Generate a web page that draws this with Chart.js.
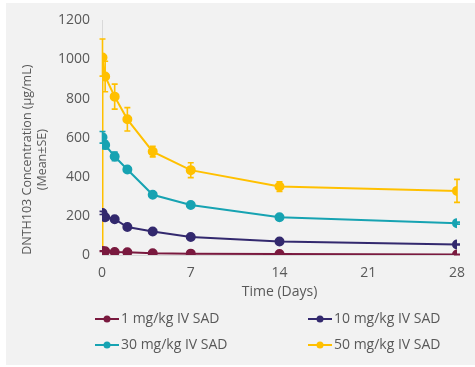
<!DOCTYPE html>
<html><head><meta charset="utf-8">
<script src="https://cdn.jsdelivr.net/npm/chart.js@4/dist/chart.umd.min.js"></script>
<style>
html,body{margin:0;padding:0;background:#fff;}
#wrap{position:relative;width:475px;height:367px;}
#bg{position:absolute;left:6px;top:3px;width:469px;height:362px;background:#f2f2f2;}
canvas{position:absolute;left:0;top:0;}
</style></head><body>
<div id="wrap"><div id="bg"></div><canvas id="c" width="475" height="367"></canvas></div>
<script>
// ---- data ----
const timeDays = [0.04, 0.25, 1, 2, 4, 7, 14, 28];
const xTicks = [0, 7, 14, 21, 28];
const yTicks = [0, 200, 400, 600, 800, 1000, 1200];
const seriesLabels = ['1 mg/kg IV SAD', '10 mg/kg IV SAD', '30 mg/kg IV SAD', '50 mg/kg IV SAD'];
const mean1  = [20, 19, 15, 14, 9, 7, 5, 3];
const se1    = [2, 2, 1, 1, 1, 1, 1, 1];
const mean10 = [215, 193, 183, 143, 120, 92, 69, 54];
const se10   = [8, 6, 6, 5, 4, 3, 3, 2];
const mean30 = [602, 563, 504, 437, 308, 256, 193, 163];
const se30   = [30, 20, 22, 12, 12, 8, 5, 5];
const mean50 = [1010, 913, 810, 694, 529, 434, 350, 328];
const se50   = [95, 78, 64, 60, 27, 38, 25, 59];
const predoseDay = [0];
const predose50 = [0];
const xTitle = 'Time (Days)';
const yTitleLines = ['DNTH103 Concentration (µg/mL)', '(Mean±SE)'];
const colors = ['#7a1a3f', '#33296e', '#17a3b2', '#ffc000'];

const FONT = '"Open Sans", "DejaVu Sans", sans-serif';
const TXT = '#595959';

function pts(xs, ys, ses) {
  return xs.map((x, i) => ({x: x, y: ys[i], se: ses ? ses[i] : 0}));
}
const series = [
  pts(timeDays, mean1, se1),
  pts(timeDays, mean10, se10),
  pts(timeDays, mean30, se30),
  pts(predoseDay, predose50, null).concat(pts(timeDays, mean50, se50))
];

const errorBars = {
  id: 'errorBars',
  afterDatasetDraw(chart, args) {
    const ds = chart.data.datasets[args.index];
    const meta = args.meta;
    const ys = chart.scales.y;
    const ctx = chart.ctx;
    ctx.save();
    ctx.strokeStyle = ds.borderColor;
    ctx.lineWidth = 1.6;
    meta.data.forEach((el, i) => {
      const d = ds.data[i];
      if (!d.se) return;
      const x = el.x;
      const yt = ys.getPixelForValue(d.y + d.se);
      const yb = ys.getPixelForValue(d.y - d.se);
      ctx.beginPath();
      ctx.moveTo(x, yt); ctx.lineTo(x, yb);
      ctx.moveTo(x - 3, yt); ctx.lineTo(x + 3, yt);
      ctx.moveTo(x - 3, yb); ctx.lineTo(x + 3, yb);
      ctx.stroke();
    });
    ctx.restore();
  }
};

const titlesAndLegend = {
  id: 'titlesAndLegend',
  afterDraw(chart) {
    const ctx = chart.ctx;
    const a = chart.chartArea;
    ctx.save();
    ctx.fillStyle = TXT;
    ctx.textAlign = 'center';
    ctx.textBaseline = 'middle';
    // x title
    ctx.font = '14px ' + FONT;
    ctx.fillText(xTitle, (a.left + a.right) / 2, a.bottom + 37);
    // y title
    ctx.save();
    ctx.font = '12.5px ' + FONT;
    ctx.translate(a.left - 75, (a.top + a.bottom) / 2 + 22);
    ctx.rotate(-Math.PI / 2);
    ctx.fillText(yTitleLines[0], 0, 0);
    ctx.fillText(yTitleLines[1], 0, 15);
    ctx.restore();
    // legend (2 columns)
    ctx.font = '14px ' + FONT;
    const colX = [95, 308];
    const rowY = [a.bottom + 64, a.bottom + 90];
    chart.data.datasets.forEach((ds, i) => {
      const x = colX[i % 2], y = rowY[Math.floor(i / 2)];
      ctx.strokeStyle = ds.borderColor;
      ctx.lineWidth = 2;
      ctx.beginPath(); ctx.moveTo(x, y); ctx.lineTo(x + 24, y); ctx.stroke();
      ctx.fillStyle = ds.borderColor;
      ctx.beginPath(); ctx.arc(x + 12, y, 3.5, 0, Math.PI * 2); ctx.fill();
      ctx.fillStyle = TXT;
      ctx.textAlign = 'left';
      ctx.fillText(ds.label, x + 26, y);
    });
    ctx.restore();
  }
};

new Chart(document.getElementById('c'), {
  type: 'line',
  data: {
    datasets: series.map((d, i) => ({
      label: seriesLabels[i],
      data: d,
      borderColor: colors[i],
      backgroundColor: colors[i],
      pointBackgroundColor: colors[i],
      pointBorderColor: colors[i],
      borderWidth: 2,
      pointRadius: 4,
      pointHoverRadius: 4,
      tension: 0,
      fill: false
    }))
  },
  options: {
    responsive: false,
    animation: false,
    events: [],
    layout: {padding: {left: 6, right: 15, top: 17, bottom: 0}},
    plugins: {legend: {display: false}, tooltip: {enabled: false}},
    scales: {
      x: {
        type: 'linear', min: 0, max: 28,
        afterBuildTicks: s => { s.ticks = xTicks.map(v => ({value: v})); },
        afterFit: s => { s.height = 112; },
        grid: {display: false, drawTicks: false},
        border: {display: true, color: '#d9d9d9', width: 1},
        ticks: {color: TXT, font: {size: 14, family: FONT}, padding: 10, maxRotation: 0,
                callback: v => String(v)}
      },
      y: {
        type: 'linear', min: 0, max: 1200,
        afterBuildTicks: s => { s.ticks = yTicks.map(v => ({value: v})); },
        afterFit: s => { s.width = 96; },
        grid: {display: false, drawTicks: false},
        border: {display: true, color: '#d9d9d9', width: 1},
        ticks: {color: TXT, font: {size: 14, family: FONT}, padding: 12,
                callback: v => String(v)}
      }
    }
  },
  plugins: [errorBars, titlesAndLegend]
});
</script>
</body></html>
